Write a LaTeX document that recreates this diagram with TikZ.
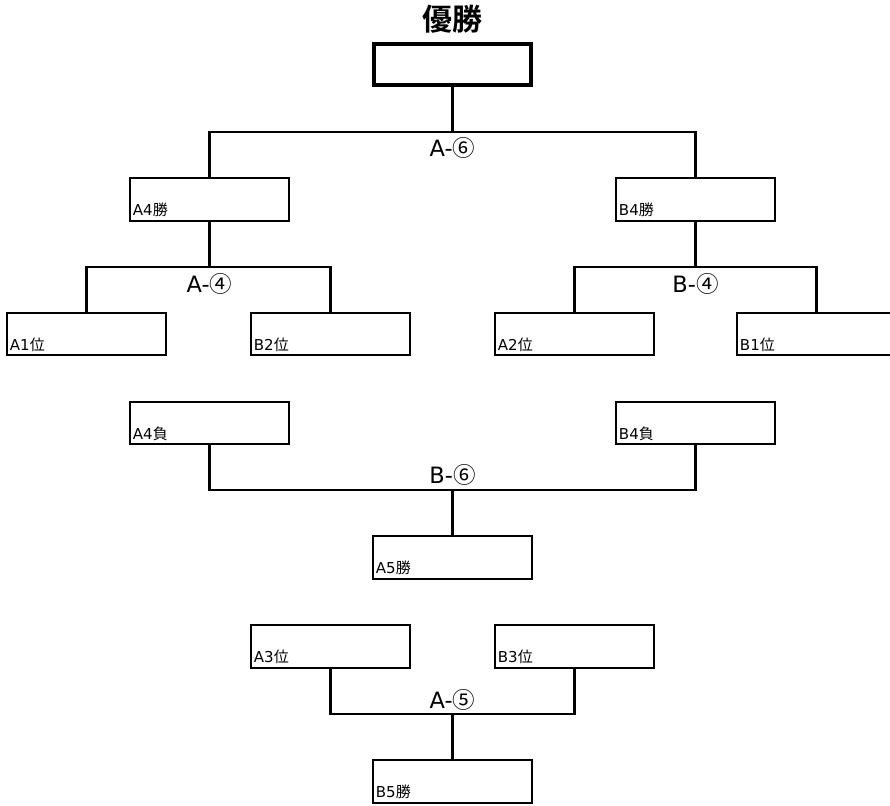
\documentclass[tikz,border=0pt]{standalone}
\usepackage{fontspec}
\setmainfont{DejaVu Sans}
\newfontfamily\cjk[BoldFont={Noto Sans CJK JP Bold}]{Noto Sans CJK JP}
\usetikzlibrary{positioning}

\tikzset{
  wire/.style={line width=2.3pt},
  slot/.style 2 args={draw, line width=2.3pt, minimum width=158.5pt,
    minimum height=42.5pt, inner sep=0pt, outer sep=0pt,
    label={[anchor=base west, inner sep=0pt, xshift=2.5pt, yshift=5pt,
      font=\fontsize{15}{15}\selectfont]south west:#1{\cjk #2}}},
  game/.style={font=\fontsize{22.5}{22.5}\selectfont, inner sep=0pt, anchor=base},
}

\begin{document}
\begin{tikzpicture}[x=1pt, y=-1pt]
\useasboundingbox (0,0) rectangle (890,805);

% --- champion box
\node[draw, line width=3.6pt, minimum width=157.5pt, minimum height=41.5pt,
  inner sep=0pt, outer sep=0pt] (win) at (452.5,64.5) {};
\node[anchor=base, inner sep=0pt, font=\cjk\bfseries\fontsize{30}{30}\selectfont]
  (champ) at (452.5,31) {優勝};

% draw the boxes
\foreach \name/\x/\y/\tag/\kanji in {
	a4w/209.5/199.5/A4/勝,
	b4w/695.5/199.5/B4/勝,
	a1/86.5/334/A1/位,
	b2/330.5/334/B2/位,
	a2/574.5/334/A2/位,
	b1/816.5/334/B1/位,
	a4l/209.5/423/A4/負,
	b4l/695.5/423/B4/負,
	a5w/452.5/557.5/A5/勝,
	a3/330.5/646.5/A3/位,
	b3/574.5/646.5/B3/位,
	b5w/452.5/781.5/B5/勝}
	\node[slot={\tag}{\kanji}] (\name) at (\x,\y) {};

% junction points
\coordinate (ja6) at (452.5,132);
\coordinate (ja4) at (209.5,267);
\coordinate (jb4) at (695.5,267);
\coordinate (jb6) at (452.5,490);
\coordinate (ja5) at (452.5,714);

% --- draw brackets
\draw[wire] (win.south) -- (ja6);
\draw[wire] (a4w.north) |- (ja6) -| (b4w.north);
\draw[wire] (a4w.south) -- (ja4);
\draw[wire] (a1.north) |- (ja4) -| (b2.north);
\draw[wire] (b4w.south) -- (jb4);
\draw[wire] (a2.north) |- (jb4) -| (b1.north);
\draw[wire] (a4l.south) |- (jb6) -| (b4l.south);
\draw[wire] (jb6) -- (a5w.north);
\draw[wire] (a3.south) |- (ja5) -| (b3.south);
\draw[wire] (ja5) -- (b5w.north);

% game labels
\node[game] (ga6) at (452.5,157) {A-{\cjk ⑥}};
\node[game] (ga4) at (209.5,292) {A-{\cjk ④}};
\node[game] (gb4) at (695.5,292) {B-{\cjk ④}};
\node[game] (gb6) at (452.5,483) {B-{\cjk ⑥}};
\node[game] (ga5) at (452.5,708) {A-{\cjk ⑤}};
\end{tikzpicture}
\end{document}
